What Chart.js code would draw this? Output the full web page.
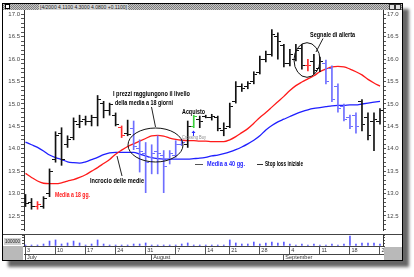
<!DOCTYPE html>
<html lang="it">
<head>
<meta charset="utf-8">
<title>Incrocio delle medie</title>
<script src="https://cdn.jsdelivr.net/npm/chart.js@4.4.1/dist/chart.umd.min.js"></script>
<style>
  html, body { margin: 0; padding: 0; background: #fff; }
  body { position: relative; width: 414px; height: 277px; overflow: hidden; font-family: "Liberation Sans", Arial, sans-serif; }
  #frame { position: absolute; left: 2px; top: 3px; width: 399px; height: 256px; border: 1px solid #000; background: #fff; box-shadow: 6px 6px 3px rgba(0, 0, 0, 0.6); }
  #titlebar { position: absolute; left: 3px; top: 4px; width: 399px; height: 6px; background: repeating-conic-gradient(#7f7f7f 0 25%, #c8c8c8 0 50%) 0 0 / 2px 2px; }
  #titlebar .sys { position: absolute; left: 2px; top: 0; width: 3px; height: 3px; background: #fff; border: 1px solid #000; }
  #titlebar .txt { position: absolute; left: 36px; top: 0; font-size: 5px; line-height: 6px; color: #222; background: #d6d6d6; padding: 0 1px; white-space: nowrap; }
  #titlebar .btn { position: absolute; top: 0; width: 4px; height: 4px; background: #e0e0e0; border: 1px solid #333; }
  canvas { position: absolute; left: 0; }
  #price { top: 0; }
  #vol { top: 234px; }
  .box { position: absolute; background: #b9b9b9; }
  .sep { position: absolute; background: #444; }
  #vlabel { position: absolute; left: 4px; top: 238px; width: 17px; height: 7px; background: #d2d2d2; font-size: 4.5px; line-height: 7px; color: #222; text-align: center; }
</style>
</head>
<body>
<div id="frame"></div>
<div id="titlebar">
  <div class="sys"></div>
  <div class="txt">[4/2000 4.1100 4.3000 4.0800 +0.1100]</div>
  <div class="btn" style="left:386px"></div>
  <div class="btn" style="left:392px"></div>
</div>
<canvas id="price" width="414" height="235"></canvas>
<canvas id="vol" width="414" height="26"></canvas>
<div class="sep" style="left:3px; top:234px; width:399px; height:1px"></div>
<div class="box" style="left:3px; top:246px; width:20px; height:14px"></div>
<div id="vlabel">100000</div>
<div class="box" style="left:384px; top:247px; width:18px; height:13px"></div>
<script>
// trading days from 3 July 2000 (Aug 15 closed); ticks on Mondays
const weekTicks = [0, 5, 10, 15, 20, 25, 30, 34, 39, 44, 49, 54, 59];
const weekLabels = ['3', '10', '17', '24', '31', '7', '14', '21', '28', '4', '11', '18', '25'];
const monthTicks = [0, 21, 43];
const monthLabels = ['July', 'August', 'September'];

const highs = [
  12.98, 12.89, 12.82, 12.93, 13.55, 14.38, 14.47, 14.29, 14.69, 14.75,
  14.73, 14.75, 15.19, 15.06, 15.02, 14.80, 14.51, 14.64, 14.62, 14.20,
  14.14, 14.09, 14.29, 13.96, 13.96, 14.18, 14.20, 14.62, 14.75, 14.73,
  14.75, 14.77, 14.73, 14.58, 15.02, 15.50, 15.45, 15.50, 15.72, 16.07,
  16.18, 16.66, 16.59, 16.33, 16.22, 16.33, 16.33, 16.00, 16.11, 16.05,
  15.98, 15.85, 15.45, 15.00, 14.75, 14.80, 15.10, 14.80, 14.80, 14.90,
];
const lows = [
  12.71, 12.65, 12.65, 12.67, 12.93, 13.70, 13.63, 14.03, 14.20, 14.47,
  14.53, 14.51, 14.51, 14.69, 14.75, 14.51, 14.25, 14.29, 13.98, 13.48,
  13.02, 13.44, 13.44, 13.02, 13.66, 13.81, 14.07, 14.03, 14.47, 14.47,
  14.69, 14.64, 14.40, 14.29, 14.47, 15.02, 15.28, 15.34, 15.45, 15.67,
  15.94, 16.07, 16.00, 15.83, 15.85, 15.96, 15.78, 15.74, 15.67, 15.72,
  15.45, 15.05, 14.82, 14.62, 14.45, 14.35, 14.40, 14.20, 13.96, 14.55,
];
const opens = [
  12.90, 12.80, 12.72, 12.70, 13.00, 13.75, 14.35, 14.10, 14.25, 14.55,
  14.65, 14.60, 14.70, 15.00, 14.85, 14.75, 14.48, 14.35, 14.45, 14.00,
  13.90, 13.80, 13.95, 13.85, 13.75, 13.85, 14.10, 14.10, 14.50, 14.65,
  14.72, 14.70, 14.70, 14.40, 14.50, 15.05, 15.40, 15.38, 15.50, 15.70,
  16.00, 16.10, 16.50, 16.30, 15.90, 16.00, 16.25, 15.87, 15.95, 15.80,
  15.90, 15.80, 15.40, 14.95, 14.70, 14.75, 15.05, 14.70, 14.60, 14.60,
];
const closes = [
  12.78, 12.70, 12.76, 12.88, 13.50, 14.30, 13.75, 14.20, 14.60, 14.62,
  14.60, 14.70, 15.10, 14.85, 14.98, 14.55, 14.30, 14.32, 14.05, 13.95,
  13.70, 13.90, 13.90, 13.60, 13.90, 14.10, 14.15, 14.50, 14.72, 14.62,
  14.70, 14.72, 14.45, 14.45, 14.95, 15.40, 15.35, 15.45, 15.65, 16.00,
  16.10, 16.55, 16.40, 15.90, 16.10, 16.20, 15.85, 15.87, 15.75, 15.95,
  15.50, 15.10, 14.90, 14.65, 14.50, 14.50, 14.55, 14.30, 14.65, 14.85,
];
// k = normal, b = below signal, r = alert, g = buy
const barKinds = ('kk' + 'r' + 'kkkkkkkkkkkkk' + 'r' + 'k' + 'bbbbbbbbb' + 'k' + 'g' +
  'kkkkkkkkkkkkkkkkkk' + 'r' + 'kk' + 'bbbbbb' + 'kkkk').split('');

const ma18 = [
  13.45, 13.36, 13.28, 13.23, 13.22, 13.22, 13.24, 13.28, 13.31, 13.36,
  13.42, 13.50, 13.58, 13.67, 13.76, 13.88, 13.97, 14.05, 14.11, 14.17,
  14.23, 14.29, 14.30, 14.28, 14.24, 14.21, 14.19, 14.18, 14.18, 14.17,
  14.17, 14.16, 14.16, 14.16, 14.20, 14.27, 14.36, 14.45, 14.57, 14.70,
  14.81, 14.93, 15.05, 15.17, 15.30, 15.41, 15.49, 15.56, 15.63, 15.72,
  15.78, 15.83, 15.84, 15.83, 15.78, 15.72, 15.65, 15.55, 15.47, 15.40,
];
const ma40 = [
  14.15, 14.09, 14.03, 13.95, 13.86, 13.80, 13.76, 13.71, 13.69, 13.68,
  13.71, 13.76, 13.81, 13.87, 13.91, 13.92, 13.92, 13.92, 13.92, 13.88,
  13.84, 13.80, 13.78, 13.77, 13.77, 13.77, 13.77, 13.77, 13.78, 13.79,
  13.81, 13.84, 13.86, 13.89, 13.93, 13.98, 14.04, 14.11, 14.19, 14.29,
  14.42, 14.52, 14.60, 14.66, 14.72, 14.78, 14.83, 14.87, 14.90, 14.92,
  14.94, 14.96, 14.97, 14.97, 14.98, 14.98, 15.00, 15.02, 15.04, 15.06,
];
const volumes = [
  18000, 18000, 18000, 36000, 90000, 110000, 36000, 55000, 90000, 55000,
  18000, 36000, 110000, 36000, 18000, 18000, 18000, 18000, 36000, 36000,
  55000, 18000, 18000, 18000, 18000, 18000, 36000, 55000, 18000, 18000,
  18000, 18000, 18000, 18000, 110000, 55000, 36000, 36000, 72000, 36000,
  55000, 72000, 55000, 72000, 36000, 18000, 36000, 18000, 36000, 18000,
  18000, 36000, 18000, 36000, 180000, 36000, 55000, 55000, 55000, 36000,
];

const palette = { k: '#111111', b: '#6e6eff', r: '#ff2b2b', g: '#3ccf3c' };
const X_MIN = -0.25;
const X_MAX = 59.5;
const TICK_FONT = { family: '"Liberation Sans", Arial, sans-serif', size: 6 };

// open / close ticks: 7x1 images, coloured on the left or right half
function tickImage(color, side) {
  const c = document.createElement('canvas');
  c.width = 7;
  c.height = 1;
  const g = c.getContext('2d');
  g.fillStyle = color;
  g.fillRect(side === 'open' ? 0 : 4, 0, 3, 1);
  return c;
}
const openImgs = {};
const closeImgs = {};
Object.keys(palette).forEach((k) => {
  openImgs[k] = tickImage(palette[k], 'open');
  closeImgs[k] = tickImage(palette[k], 'close');
});

const priceLabel = (v) => (Math.abs(v * 2 - Math.round(v * 2)) < 1e-6 ? v.toFixed(1) : '');

function priceAxis(position, width) {
  return {
    position,
    min: 12.186,
    max: 17.099,
    afterFit: (s) => { s.width = width; },
    ticks: {
      stepSize: 0.1, autoSkip: false, includeBounds: false, padding: 1,
      font: TICK_FONT, color: '#444', callback: priceLabel,
    },
    grid: { drawOnChartArea: false, tickLength: 3, color: '#555' },
    border: { color: '#333' },
  };
}

// annotation layer: ellipses, leader lines and labels
const notes = [
  { text: 'Segnale di allerta', x: 310, y: 34.5, w: 45, color: '#000' },
  { text: 'I prezzi raggiungono il livello', x: 113, y: 94, w: 77, color: '#000' },
  { text: 'della media a 18 giorni', x: 115, y: 102.5, w: 58, color: '#000' },
  { text: 'Acquisto', x: 182, y: 112, w: 23, color: '#000' },
  { text: 'Incrocio delle medie', x: 90, y: 180.5, w: 54, color: '#000' },
  { text: 'Media a 18 gg.', x: 55, y: 194.5, w: 35, color: '#ff1a1a' },
  { text: 'Media a 40 gg.', x: 207, y: 164, w: 38, color: '#1f1fff' },
  { text: 'Stop loss iniziale', x: 265, y: 164, w: 38, color: '#000' },
];

const annotate = {
  id: 'annotate',
  afterDatasetsDraw(chart) {
    const c = chart.ctx;
    c.save();
    c.strokeStyle = '#111';
    c.lineWidth = 1;
    c.beginPath(); c.ellipse(155.5, 145, 27.5, 17, 0, 0, Math.PI * 2); c.stroke();
    c.beginPath(); c.ellipse(307, 60, 13, 17.3, 0, 0, Math.PI * 2); c.stroke();

    const seg = (x1, y1, x2, y2, col) => {
      c.strokeStyle = col || '#222';
      c.beginPath(); c.moveTo(x1, y1); c.lineTo(x2, y2); c.stroke();
    };
    seg(323, 38.5, 316, 52);
    seg(151.5, 107, 155.5, 127);
    seg(117, 156, 122, 176);
    seg(195, 164.5, 203, 164.5, '#555');
    seg(257, 164.5, 263, 164.5, '#333');

    // small buy arrow under the green bar
    c.fillStyle = '#2a2aff';
    c.beginPath(); c.moveTo(193.5, 130.5); c.lineTo(195.5, 133); c.lineTo(191.5, 133); c.closePath(); c.fill();
    c.fillRect(193, 133, 1, 3);

    c.textBaseline = 'middle';
    c.textAlign = 'left';
    c.font = '4.5px "Liberation Sans", Arial, sans-serif';
    c.fillStyle = '#8a8a8a';
    c.fillText('Crossing Buy', 182, 138, 24);

    c.font = 'bold 7.5px "Liberation Sans Narrow", "Arial Narrow", "Liberation Sans", sans-serif';
    notes.forEach((n) => {
      c.fillStyle = n.color;
      c.fillText(n.text, n.x, n.y, n.w);
    });
    c.restore();
  },
};

new Chart(document.getElementById('price'), {
  type: 'bar',
  data: {
    datasets: [
      {
        type: 'line', label: 'Media a 40 gg.', order: 4,
        data: ma40.map((v, i) => ({ x: i, y: v })),
        borderColor: '#1f1fff', borderWidth: 1.3, pointRadius: 0, cubicInterpolationMode: 'monotone',
      },
      {
        type: 'line', label: 'Media a 18 gg.', order: 3,
        data: ma18.map((v, i) => ({ x: i, y: v })),
        borderColor: '#ff1a1a', borderWidth: 1.3, pointRadius: 0, cubicInterpolationMode: 'monotone',
      },
      {
        type: 'bar', label: 'Min-Max', order: 2, grouped: false,
        data: highs.map((h, i) => ({ x: i, y: [lows[i], h] })),
        backgroundColor: (ctx) => palette[barKinds[ctx.dataIndex]],
        barThickness: 1,
      },
      {
        type: 'scatter', label: 'Apertura', order: 1,
        data: opens.map((v, i) => ({ x: i, y: v })),
        pointStyle: (ctx) => openImgs[barKinds[ctx.dataIndex]], pointRadius: 1,
      },
      {
        type: 'scatter', label: 'Chiusura', order: 0,
        data: closes.map((v, i) => ({ x: i, y: v })),
        pointStyle: (ctx) => closeImgs[barKinds[ctx.dataIndex]], pointRadius: 1,
      },
    ],
  },
  options: {
    responsive: false,
    animation: false,
    events: [],
    layout: { padding: { left: 0, right: 0, top: 10, bottom: 1 } },
    plugins: { legend: { display: false }, tooltip: { enabled: false } },
    scales: {
      x: { type: 'linear', min: X_MIN, max: X_MAX, offset: false, display: false, grid: { offset: false } },
      y: priceAxis('left', 24),
      y2: priceAxis('right', 31),
    },
  },
  plugins: [annotate],
});

function bottomAxis(ticks, labels, height, weight, pad) {
  return {
    type: 'linear', position: 'bottom', min: X_MIN, max: X_MAX, offset: false, weight,
    afterFit: (s) => { s.height = height; },
    afterBuildTicks: (s) => { s.ticks = ticks.map((v) => ({ value: v })); },
    ticks: {
      autoSkip: false, maxRotation: 0, align: 'start', padding: pad, labelOffset: 1.5,
      font: { family: TICK_FONT.family, size: 5.5 }, color: '#333',
      callback: (v) => labels[ticks.indexOf(v)],
    },
    grid: { drawOnChartArea: false, offset: false, tickLength: height, color: '#555' },
    border: { color: '#444' },
  };
}

function volAxis(position, width, showLabel) {
  return {
    position, min: 0, max: 200000,
    afterFit: (s) => { s.width = width; },
    afterBuildTicks: (s) => { s.ticks = [0, 50000, 100000, 150000, 200000].map((v) => ({ value: v })); },
    ticks: { display: showLabel, callback: () => '', font: { size: 4 } },
    grid: { drawOnChartArea: false, tickLength: 2, color: '#555' },
    border: { color: '#333' },
  };
}

new Chart(document.getElementById('vol'), {
  type: 'bar',
  data: {
    datasets: [{
      label: 'Volume',
      data: volumes.map((v, i) => ({ x: i, y: v })),
      backgroundColor: '#5c5cff',
      barThickness: 1,
    }],
  },
  options: {
    responsive: false,
    animation: false,
    events: [],
    layout: { padding: { top: 1 } },
    plugins: { legend: { display: false }, tooltip: { enabled: false } },
    scales: {
      x: bottomAxis(weekTicks, weekLabels, 8, 0, -7.3),
      x2: bottomAxis(monthTicks, monthLabels, 6, 1, -6.3),
      y: volAxis('left', 24, false),
      y2: volAxis('right', 31, false),
    },
  },
});
</script>
</body>
</html>
